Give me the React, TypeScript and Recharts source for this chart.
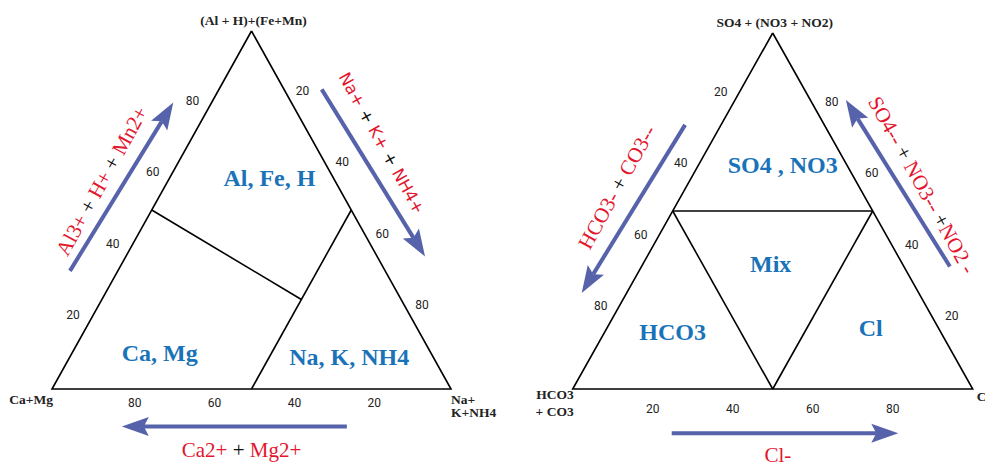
import React from 'react';
import { ScatterChart, Scatter, XAxis, YAxis } from 'recharts';

// ternary points are [top, left corner, right corner] in percent
type Tern = [number, number, number];

const tickValues = [20, 40, 60, 80];

// cation triangle: top = (Al+H)+(Fe+Mn), left = Ca+Mg, right = Na+K+NH4
const cationOutline: Tern[] = [[100, 0, 0], [0, 100, 0], [0, 0, 100], [100, 0, 0]];
const cationDividers: Tern[][] = [
  [[50, 50, 0], [25, 25, 50]],
  [[50, 0, 50], [0, 50, 50]],
];
const cationFields = [
  { label: 'Al, Fe, H', at: [59, 16, 25] as Tern },
  { label: 'Ca, Mg', at: [10, 68, 22] as Tern },
  { label: 'Na, K, NH4', at: [9, 21, 70] as Tern },
];

// anion triangle: top = SO4+(NO3+NO2), left = HCO3+CO3, right = Cl
const anionOutline: Tern[] = [[100, 0, 0], [0, 100, 0], [0, 0, 100], [100, 0, 0]];
const anionDividers: Tern[][] = [
  [[50, 50, 0], [50, 0, 50]],
  [[50, 50, 0], [0, 50, 50]],
  [[50, 0, 50], [0, 50, 50]],
];
const anionFields = [
  { label: 'SO4 , NO3', at: [63, 16, 21] as Tern },
  { label: 'Mix', at: [35, 33, 32] as Tern },
  { label: 'HCO3', at: [16, 67, 17] as Tern },
  { label: 'Cl', at: [17, 17, 66] as Tern },
];

const cationCorners = { top: ['(Al + H)+(Fe+Mn)'], left: ['Ca+Mg'], right: ['Na+', 'K+NH4'] };
const anionCorners = { top: ['SO4 + (NO3 + NO2)'], left: ['HCO3', '+ CO3'], right: ['Cl'] };

// arrow captions: [text, isIon]
const cationLeftCaption: [string, boolean][] = [['Al3+', true], [' + ', false], ['H+', true], [' + ', false], ['Mn2+', true]];
const cationRightCaption: [string, boolean][] = [['Na+', true], [' + ', false], ['K+', true], [' + ', false], ['NH4+', true]];
const cationBottomCaption: [string, boolean][] = [['Ca2+', true], [' + ', false], ['Mg2+', true]];
const anionLeftCaption: [string, boolean][] = [['HCO3-', true], [' + ', false], ['CO3--', true]];
const anionRightCaption: [string, boolean][] = [['SO4--', true], [' + ', false], ['NO3--', true], [' +', false], ['NO2 -', true]];
const anionBottomCaption: [string, boolean][] = [['Cl-', true]];

const RED = '#e3162f';
const BLUE = '#1a73b8';
const ARROW = '#5662aa';
const SERIF = 'Liberation Serif';
const SANS = 'DejaVu Sans';

const toXY = ([top, , right]: Tern) => ({ x: right + top / 2, y: top });

const Blank = () => <g />;

const ArrowLine = (p: any) => {
  const pts = p.points;
  if (!pts || pts.length < 2) return <g />;
  const a = pts[0];
  const b = pts[1];
  const dx = b.x - a.x;
  const dy = b.y - a.y;
  const len = Math.hypot(dx, dy);
  const ux = dx / len;
  const uy = dy / len;
  const hl = 27;
  const hw = 9.5;
  const bx = b.x - ux * hl;
  const by = b.y - uy * hl;
  const nx = bx + ux * 5;
  const ny = by + uy * 5;
  return (
    <g>
      <line x1={a.x} y1={a.y} x2={nx} y2={ny} stroke={ARROW} strokeWidth={4} />
      <polygon
        points={`${b.x},${b.y} ${bx - uy * hw},${by + ux * hw} ${nx},${ny} ${bx + uy * hw},${by - ux * hw}`}
        fill={ARROW}
      />
    </g>
  );
};

type Layout = {
  left: number; width: number; baseX: number; baseW: number; baseY: number; triH: number;
};

const tickLabel = (dx: number, dy: number) => (props: any) => (
  <text
    x={props.cx + dx}
    y={props.cy + dy}
    textAnchor="middle"
    dominantBaseline="central"
    fontFamily="Roboto"
    fontSize={12}
    fill="#222"
  >
    {props.payload.label}
  </text>
);

const fieldLabel = (props: any) => (
  <text
    x={props.cx}
    y={props.cy}
    textAnchor="middle"
    dominantBaseline="central"
    fontFamily={SERIF}
    fontWeight="bold"
    fontSize={24}
    fill={BLUE}
  >
    {props.payload.label}
  </text>
);

const cornerLabel = (anchor: string, dx: number, dy: number, gap: number) => (props: any) => (
  <text
    x={props.cx + dx}
    y={props.cy + dy}
    textAnchor={anchor}
    fontFamily={SERIF}
    fontWeight={600}
    fontSize={13.5}
    fill="#222"
  >
    {props.payload.lines.map((l: string, i: number) => (
      <tspan key={i} x={props.cx + dx} dy={i === 0 ? 0 : gap}>{l}</tspan>
    ))}
  </text>
);

const captionLabel = (angle: number, sans: boolean) => (props: any) => (
  <text
    x={props.cx}
    y={props.cy}
    textAnchor="middle"
    dominantBaseline="central"
    transform={`rotate(${angle} ${props.cx} ${props.cy})`}
    fontFamily={sans ? SANS : SERIF}
    fontSize={sans ? 16.5 : 21}
    style={{ whiteSpace: 'pre' }}
  >
    {props.payload.parts.map(([t, ion]: [string, boolean], i: number) => (
      <tspan key={i} fill={ion ? RED : '#111'}>{t}</tspan>
    ))}
  </text>
);

function Ternary({
  layout, outline, dividers, fields, corners, cornerPos, sideTicks, arrows, captions,
}: any) {
  const { width, baseX, baseW, baseY, triH } = layout as Layout;
  const h = 464;
  const kx = baseW / 100;
  const ky = triH / 100;
  const xDomain = [-baseX / kx, (width - baseX) / kx];
  const yDomain = [-(h - baseY) / ky, baseY / ky];
  return (
    <div style={{ position: 'absolute', left: layout.left, top: 0 }}>
      <ScatterChart width={width} height={h} margin={{ top: 0, right: 0, bottom: 0, left: 0 }}>
        <XAxis type="number" dataKey="x" domain={xDomain} allowDataOverflow hide />
        <YAxis type="number" dataKey="y" domain={yDomain} allowDataOverflow hide />
        <Scatter
          data={outline.map(toXY)}
          line={{ stroke: '#000', strokeWidth: 1.6 }}
          lineJointType="linear"
          shape={Blank}
          isAnimationActive={false}
        />
        {dividers.map((d: Tern[], i: number) => (
          <Scatter
            key={`d${i}`}
            data={d.map(toXY)}
            line={{ stroke: '#000', strokeWidth: 1.6 }}
            lineJointType="linear"
            shape={Blank}
            isAnimationActive={false}
          />
        ))}
        {sideTicks.map((s: any, i: number) => (
          <Scatter
            key={`t${i}`}
            data={tickValues.map((v) => ({ ...toXY(s.at(v)), label: v }))}
            shape={tickLabel(s.dx, s.dy)}
            isAnimationActive={false}
          />
        ))}
        <Scatter
          data={fields.map((f: any) => ({ ...toXY(f.at), label: f.label }))}
          shape={fieldLabel}
          isAnimationActive={false}
        />
        <Scatter data={[{ ...toXY([100, 0, 0]), lines: corners.top }]} shape={cornerLabel('middle', 2, -6, 0)} isAnimationActive={false} />
        <Scatter data={[{ ...toXY([0, 100, 0]), lines: corners.left }]} shape={cornerLabel('end', 1, cornerPos.leftDy, cornerPos.leftGap)} isAnimationActive={false} />
        <Scatter data={[{ ...toXY([0, 0, 100]), lines: corners.right }]} shape={cornerLabel('start', cornerPos.rightDx, cornerPos.rightDy, 13.5)} isAnimationActive={false} />
        {arrows.map((a: any, i: number) => (
          <Scatter
            key={`a${i}`}
            data={[{ x: a.from[0], y: a.from[1] }, { x: a.to[0], y: a.to[1] }]}
            line={ArrowLine}
            lineJointType="linear"
            shape={Blank}
            isAnimationActive={false}
          />
        ))}
        {captions.map((c: any, i: number) => (
          <Scatter
            key={`c${i}`}
            data={[{ x: c.at[0], y: c.at[1], parts: c.parts }]}
            shape={captionLabel(c.angle, c.sans)}
            isAnimationActive={false}
          />
        ))}
      </ScatterChart>
    </div>
  );
}

export default function App() {
  return (
    <div style={{ position: 'absolute', left: 0, top: 0, width: 985, height: 464, background: '#fff', overflow: 'hidden' }}>
      <Ternary
        layout={{ left: 0, width: 515, baseX: 52, baseW: 399, baseY: 389, triH: 358 }}
        outline={cationOutline}
        dividers={cationDividers}
        fields={cationFields}
        corners={cationCorners}
        cornerPos={{ leftDy: 15, leftGap: 0, rightDx: 0, rightDy: 14.5 }}
        sideTicks={[
          { at: (v: number): Tern => [v, 100 - v, 0], dx: -19, dy: -2 },
          { at: (v: number): Tern => [100 - v, 0, v], dx: 11, dy: -12 },
          { at: (v: number): Tern => [0, v, 100 - v], dx: 3, dy: 14 },
        ]}
        arrows={[
          { from: [4.5, 33.0], to: [30.4, 80.0] },
          { from: [67.6, 83.7], to: [93.5, 37.0] },
          { from: [73.9, -10.5], to: [17.5, -10.5] },
        ]}
        captions={[
          { at: [12.5, 58.1], angle: -61, parts: cationLeftCaption, sans: false },
          { at: [82.7, 68.7], angle: 61, parts: cationRightCaption, sans: true },
          { at: [47.5, -17.0], angle: 0, parts: cationBottomCaption, sans: false },
        ]}
      />
      <Ternary
        layout={{ left: 495, width: 490, baseX: 77.7, baseW: 400, baseY: 389, triH: 356 }}
        outline={anionOutline}
        dividers={anionDividers}
        fields={anionFields}
        corners={anionCorners}
        cornerPos={{ leftDy: 10, leftGap: 17, rightDx: 4, rightDy: 12 }}
        sideTicks={[
          { at: (v: number): Tern => [100 - v, v, 0], dx: -12, dy: -12 },
          { at: (v: number): Tern => [v, 0, 100 - v], dx: 19, dy: -2 },
          { at: (v: number): Tern => [0, 100 - v, v], dx: 0, dy: 20 },
        ]}
        arrows={[
          { from: [28.1, 74.2], to: [2.25, 27.0] },
          { from: [94.3, 34.4], to: [68.3, 81.2] },
          { from: [24.75, -12.4], to: [81.4, -12.4] },
        ]}
        captions={[
          { at: [11.1, 56.7], angle: -61, parts: anionLeftCaption, sans: false },
          { at: [87.3, 57.3], angle: 61, parts: anionRightCaption, sans: false },
          { at: [51.3, -18.4], angle: 0, parts: anionBottomCaption, sans: false },
        ]}
      />
    </div>
  );
}
